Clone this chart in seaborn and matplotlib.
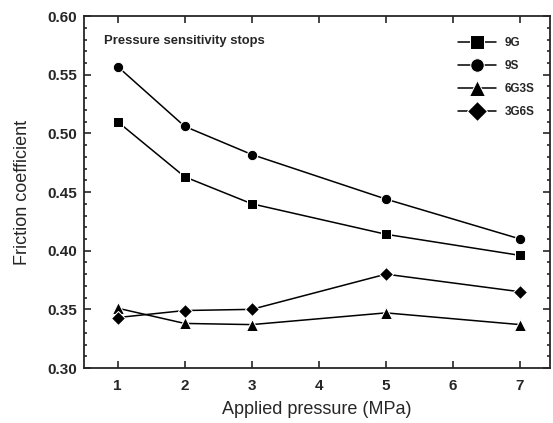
import matplotlib
matplotlib.use("Agg")
import matplotlib.pyplot as plt
from matplotlib.ticker import MultipleLocator
import pandas as pd
import seaborn as sns

pressure = [1, 2, 3, 5, 7]
f_9g = [0.510, 0.463, 0.440, 0.414, 0.396]
f_9s = [0.557, 0.506, 0.482, 0.444, 0.410]
f_6g3s = [0.351, 0.338, 0.337, 0.347, 0.337]
f_3g6s = [0.343, 0.349, 0.350, 0.380, 0.365]
names = ["9G", "9S", "6G3S", "3G6S"]

rows = []
for name, vals in zip(names, [f_9g, f_9s, f_6g3s, f_3g6s]):
    for p, v in zip(pressure, vals):
        rows.append({"pressure": p, "friction": v, "sample": name})
df = pd.DataFrame(rows)

sns.set_style("ticks")
plt.rcParams["font.family"] = ["Liberation Sans", "DejaVu Sans"]

fig = plt.figure(figsize=(5.53, 4.23), dpi=100)
ax = fig.add_axes([0.152, 0.130, 0.843, 0.832])

sns.lineplot(data=df, x="pressure", y="friction", hue="sample", style="sample",
             hue_order=names, style_order=names,
             palette=["black"] * 4, markers={"9G": "s", "9S": "o", "6G3S": "^", "3G6S": "D"},
             dashes=False, markersize=7.5, linewidth=1.1, ax=ax)
# triangles look small next to the others, bump them a bit
for ln in ax.lines:
    if ln.get_marker() == "^":
        ln.set_markersize(9)

ax.set_xlim(0.5, 7.45)
ax.set_ylim(0.30, 0.60)
ax.set_xticks([1, 2, 3, 4, 5, 6, 7])
ax.yaxis.set_major_locator(MultipleLocator(0.05))
ax.yaxis.set_minor_locator(MultipleLocator(0.01))
ax.yaxis.set_major_formatter(matplotlib.ticker.FormatStrFormatter("%.2f"))
ax.tick_params(direction="in", top=True, right=True, which="both", labelsize=11, width=1.2)
ax.tick_params(which="major", length=5)
ax.tick_params(which="minor", length=2.5)
ax.tick_params(axis="x", pad=8)
ax.tick_params(axis="y", pad=5)
for lab in ax.get_xticklabels() + ax.get_yticklabels():
    lab.set_fontweight("bold")
for s in ax.spines.values():
    s.set_linewidth(1.3)

ax.set_xlabel("Applied pressure (MPa)", fontsize=13, labelpad=6)
ax.set_ylabel("Friction coefficient", fontsize=13, labelpad=12)
ax.text(0.043, 0.929, "Pressure sensitivity stops", transform=ax.transAxes,
        fontsize=9.4, fontweight="bold", va="center")

leg = ax.legend(loc="upper right", bbox_to_anchor=(0.985, 0.965), frameon=False,
                fontsize=8.5, handlelength=3.2, labelspacing=0.95, borderaxespad=0.3,
                markerscale=1.3)
for t in leg.get_texts():
    t.set_fontweight("bold")

fig.savefig("out.png", dpi=100)
